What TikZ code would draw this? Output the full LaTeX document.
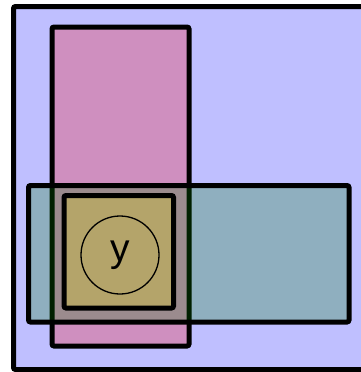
\documentclass[tikz,border=0pt]{standalone}
\usepackage{fontspec}
\setmainfont{Liberation Sans}
\begin{document}
\begin{tikzpicture}[x=1pt,y=-1pt,
  box/.style={draw=black, line width=5pt, rounded corners=2pt, fill opacity=0.25, draw opacity=1, inner sep=0pt, outer sep=0pt, rectangle},
  ring/.style={draw=black, line width=1.3pt, circle, inner sep=0pt, minimum size=78pt, font=\fontsize{39}{39}\selectfont}]
\useasboundingbox (0,0) rectangle (361,372);
\clip (0,0) rectangle (361,372);
\node[box, fill=blue, minimum width=352.5pt, minimum height=363pt] (outer) at (189.75,188) {};
\node[box, fill=red, minimum width=137pt, minimum height=319pt] (tall) at (120.5,186.5) {};
\node[box, fill=green!50!black, minimum width=320.5pt, minimum height=136.5pt] (wide) at (188.75,253.75) {};
\node[box, fill=yellow, minimum width=109.5pt, minimum height=112.5pt] (inner) at (118.75,251.75) {};
\node[ring] (y) at (120,255) {y};
\end{tikzpicture}
\end{document}
